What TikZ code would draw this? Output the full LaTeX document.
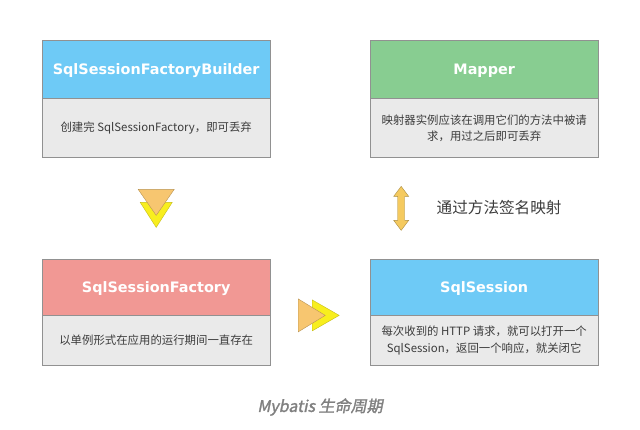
\documentclass[tikz,border=0pt]{standalone}
\usepackage{fontspec}
\usetikzlibrary{positioning,calc}
\newfontfamily\headfont{DejaVu Sans}
\newfontfamily\cjk{Noto Sans CJK SC}
\newfontfamily\capfont{Noto Sans CJK SC}[FakeSlant=0.2,FakeBold=1.5]
\definecolor{boxline}{RGB}{145,145,145}
\definecolor{bodygray}{RGB}{234,234,234}
\definecolor{bodytext}{RGB}{60,60,60}
\definecolor{headblue}{RGB}{110,202,246}
\definecolor{headgreen}{RGB}{136,205,145}
\definecolor{headred}{RGB}{241,152,148}
\definecolor{chevorange}{RGB}{247,198,112}
\definecolor{chevyellow}{RGB}{248,238,30}
\definecolor{goldarrow}{RGB}{245,202,95}

\begin{document}
\begin{tikzpicture}[
    x=1pt, y=1pt,
    head/.style={draw=boxline, minimum width=228pt, inner sep=0pt, anchor=north west,
      text depth=0pt, text=white, font=\headfont\bfseries\fontsize{14.4}{17}\selectfont},
    body/.style={draw=boxline, fill=bodygray, minimum width=228pt, inner sep=0pt, align=center,
      text=bodytext, font=\cjk\fontsize{11.4}{16.5}\selectfont},
    chevback/.style={fill=chevyellow, draw=chevyellow!80!black},
    chevfront/.style={fill=chevorange, draw=chevorange!75!black},
  ]
  \fill[white] (0,0) rectangle (640,430);
  \useasboundingbox (0,0) rectangle (640,430);

  % top row
  \node[head, fill=headblue, minimum height=58pt] (sfb) at (42,390) {SqlSessionFactoryBuilder};
  \node[body, minimum height=59pt, below=0pt of sfb] (sfb-b) {创建完 SqlSessionFactory，即可丢弃};
  \node[head, fill=headgreen, minimum height=58pt] (map) at (370,390) {Mapper};
  \node[body, minimum height=59pt, below=0pt of map] (map-b) {映射器实例应该在调用它们的方法中被请\\求，用过之后即可丢弃};

  % bottom row
  \node[head, fill=headred, minimum height=56pt] (sf) at (42,171) {SqlSessionFactory};
  \node[body, minimum height=50pt, below=0pt of sf] (sf-b) {以单例形式在应用的运行期间一直存在};
  \node[head, fill=headblue, minimum height=56pt] (ss) at (370,171) {SqlSession};
  \node[body, minimum height=50pt, below=0pt of ss] (ss-b) {每次收到的 HTTP 请求，就可以打开一个\\SqlSession，返回一个响应，就关闭它};

  % chevrons between the boxes
  \coordinate (down) at ($(sfb-b.south)!0.5!(sf.north)$);
  \coordinate (right) at ($(sf.south east)!0.5!(ss.south west)$);
  \begin{scope}[shift={(down)}]
    \draw[chevback] (-16,6) -- (16,6) -- (0,-19) -- cycle;
    \draw[chevfront] (-18,19) -- (18,19) -- (0,-7) -- cycle;
  \end{scope}
  \begin{scope}[shift={(right)}]
    \draw[chevback] (-8,15.5) -- (-8,-15.5) -- (19,0) -- cycle;
    \draw[chevfront] (-22,16.5) -- (-22,-16.5) -- (5,0) -- cycle;
  \end{scope}

  % mapping arrow
  \coordinate (sig) at ($(map-b.south)!0.5!(ss.north)$);
  \draw[fill=goldarrow, draw=goldarrow!70!black, shift={($(sig)+(-83,0)$)}]
    (-3.5,12) -- (-7.5,12) -- (0,22) -- (7.5,12) -- (3.5,12) -- (3.5,-12) --
    (7.5,-12) -- (0,-22) -- (-7.5,-12) -- (-3.5,-12) -- cycle;
  \node[anchor=west, text=bodytext, font=\cjk\fontsize{15.6}{18}\selectfont] (sigtext)
    at ($(sig)+(-51,1)$) {通过方法签名映射};

  \node[text=black!50, font=\capfont\fontsize{16}{19}\selectfont] (caption) at (320,23) {Mybatis 生命周期};
\end{tikzpicture}
\end{document}
